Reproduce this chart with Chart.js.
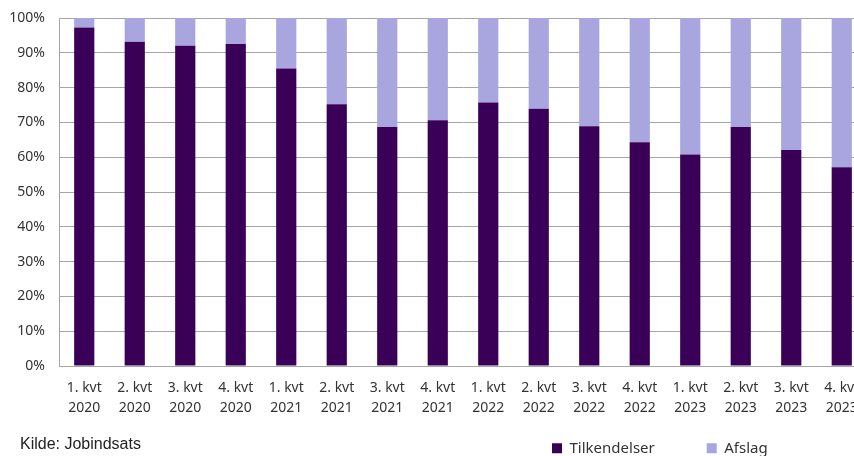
<!DOCTYPE html>
<html>
<head>
<meta charset="utf-8">
<script src="https://cdn.jsdelivr.net/npm/chart.js@4"></script>
<style>
    html, body { margin: 0; padding: 0; background: #fff; overflow: hidden; }
    #wrap { position: relative; width: 870px; height: 456px; }
    #source {
        position: absolute; left: 20px; top: 436px;
        font: 16px/1 "Liberation Sans", Arial, sans-serif; color: #222;
    }
</style>
</head>
<body>
<div id="wrap">
    <canvas id="chart"></canvas>
    <div id="source">Kilde: Jobindsats</div>
</div>
<script>
// Categories (two-line tick labels)
const categories = [
    ['1. kvt', '2020'], ['2. kvt', '2020'], ['3. kvt', '2020'], ['4. kvt', '2020'],
    ['1. kvt', '2021'], ['2. kvt', '2021'], ['3. kvt', '2021'], ['4. kvt', '2021'],
    ['1. kvt', '2022'], ['2. kvt', '2022'], ['3. kvt', '2022'], ['4. kvt', '2022'],
    ['1. kvt', '2023'], ['2. kvt', '2023'], ['3. kvt', '2023'], ['4. kvt', '2023']
];

// Share of decisions, percent
const tilkendelser = [97.3, 93.2, 92.0, 92.5, 85.5, 75.2, 68.7, 70.6, 75.7, 73.9, 68.9, 64.3, 60.8, 68.7, 62.1, 57.1];
const afslag = [2.7, 6.8, 8.0, 7.5, 14.5, 24.8, 31.3, 29.4, 24.3, 26.1, 31.1, 35.7, 39.2, 31.3, 37.9, 42.9];

const yTicks = [0, 10, 20, 30, 40, 50, 60, 70, 80, 90, 100];

const DARK = '#3a0058';
const LIGHT = '#a9a6df';
const GRID = '#a6a6a6';
const TEXT = '#333333';

// legend takes no room in the layout, then gets placed by hand
const legendSpot = {
    id: 'legendSpot',
    beforeLayout(chart) {
        const lg = chart.legend;
        if (lg && !lg._flat) {
            const fit = lg.fit;
            lg.fit = function() { fit.call(this); this.height = 0; };
            lg._flat = true;
        }
    },
    afterLayout(chart) {
        const lg = chart.legend;
        lg.left = 500;
        lg.right = chart.width;
        lg.width = lg.right - lg.left;
        lg.top = 388.8;
        lg.bottom = lg.top + 120;
        lg.height = 120;
    }
};

const ctx = document.getElementById('chart').getContext('2d');
new Chart(ctx, {
    type: 'bar',
    data: {
        labels: categories,
        datasets: [
            { label: 'Tilkendelser', data: tilkendelser, backgroundColor: DARK, borderWidth: 0 },
            { label: 'Afslag', data: afslag, backgroundColor: LIGHT, borderWidth: 0 }
        ]
    },
    options: {
        responsive: true,
        maintainAspectRatio: false,
        animation: false,
        layout: { padding: { top: 18, left: 0, right: 3, bottom: 0 } },
        datasets: { bar: { categoryPercentage: 1, barPercentage: 0.4 } },
        scales: {
            x: {
                stacked: true,
                grid: { display: false, drawTicks: false },
                border: { display: true, color: GRID },
                ticks: {
                    color: TEXT,
                    padding: 12,
                    maxRotation: 0,
                    autoSkip: false,
                    font: { family: 'Noto Sans', size: 14, lineHeight: 1.43 }
                },
                afterFit(scale) {
                    scale.height = 90;
                    scale.paddingLeft = 0;
                    scale.paddingRight = 0;
                }
            },
            y: {
                stacked: true,
                min: 0,
                max: 100,
                afterBuildTicks(scale) {
                    scale.ticks = yTicks.map(v => ({ value: v }));
                },
                grid: { color: GRID, drawTicks: false },
                border: { display: true, color: GRID },
                ticks: {
                    color: TEXT,
                    padding: 14,
                    font: { family: 'Noto Sans', size: 14 },
                    callback: v => v + '%'
                },
                afterFit(scale) {
                    scale.width = 59;
                    scale.paddingTop = 0;
                    scale.paddingBottom = 0;
                }
            }
        },
        plugins: {
            legend: {
                position: 'bottom',
                align: 'start',
                labels: {
                    boxWidth: 10,
                    boxHeight: 10,
                    padding: 52,
                    color: TEXT,
                    font: { family: 'Noto Sans', size: 15 }
                }
            },
            tooltip: { enabled: false }
        }
    },
    plugins: [legendSpot]
});
</script>
</body>
</html>
